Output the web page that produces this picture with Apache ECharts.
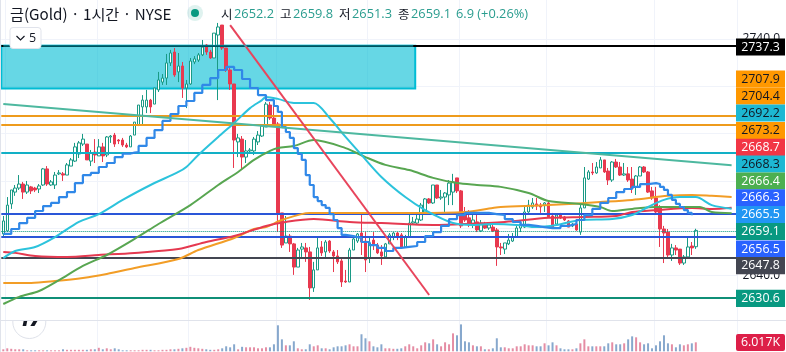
<!DOCTYPE html>
<html><head><meta charset="utf-8">
<style>html,body{margin:0;padding:0;background:#fff}#c{width:786px;height:352px}</style>
<script src="https://cdn.jsdelivr.net/npm/echarts@6/dist/echarts.min.js"></script>
</head><body><div id="c"></div>
<script>
const opens=[2657.6,2658.9,2670.3,2675.3,2677.0,2678.7,2675.3,2677.5,2677.0,2676.6,
2678.3,2685.1,2678.3,2678.3,2683.0,2683.0,2682.5,2686.3,2688.4,2691.4,
2695.6,2695.6,2688.4,2692.2,2690.6,2694.4,2691.0,2698.6,2699.4,2697.3,
2697.3,2695.2,2694.4,2699.4,2703.7,2711.3,2711.3,2714.2,2712.5,2718.5,
2721.8,2723.5,2729.9,2734.5,2726.1,2728.6,2719.3,2721.0,2730.3,2731.1,
2733.3,2737.5,2734.5,2732.0,2741.7,2745.9,2736.2,2726.9,2721.0,2696.5,
2697.7,2690.1,2692.7,2692.7,2696.5,2699.0,2702.8,2712.1,2706.6,2704.1,
2666.5,2653.8,2656.7,2653.4,2643.6,2651.2,2651.7,2650.0,2634.8,2642.4,
2652.1,2650.0,2654.6,2650.0,2648.3,2646.2,2637.7,2637.3,2650.8,2654.6,
2658.0,2654.6,2647.4,2655.0,2652.9,2650.0,2647.9,2653.4,2656.3,2658.0,
2657.2,2652.1,2656.3,2662.2,2662.2,2663.5,2666.9,2672.4,2670.7,2678.3,
2672.8,2673.2,2674.1,2675.3,2681.3,2675.8,2666.5,2664.4,2661.8,2662.7,
2658.9,2661.8,2660.1,2660.5,2659.3,2652.1,2651.2,2653.4,2654.6,2656.3,
2660.1,2660.5,2666.9,2669.0,2670.3,2669.8,2669.8,2670.7,2665.2,2661.8,
2665.6,2664.8,2663.1,2661.0,2661.8,2658.4,2668.6,2680.8,2683.8,2683.4,
2685.5,2688.9,2684.2,2680.4,2688.0,2685.9,2682.5,2683.0,2680.8,2677.5,
2682.1,2685.9,2683.8,2675.8,2672.8,2668.6,2659.7,2658.4,2648.7,2651.7,
2651.2,2645.3,2647.9,2652.5,2652.2];
const closes=[2663.1,2669.8,2676.2,2677.0,2678.7,2675.3,2678.3,2675.8,2676.2,2677.9,
2685.1,2678.7,2679.6,2682.5,2683.4,2682.5,2686.8,2688.9,2694.4,2696.1,
2697.7,2688.9,2691.8,2691.0,2694.4,2690.6,2698.6,2699.0,2695.6,2696.9,
2695.2,2694.4,2699.0,2704.9,2712.1,2714.2,2714.2,2711.3,2719.3,2722.7,
2723.5,2729.9,2734.1,2724.8,2728.6,2719.3,2721.0,2730.7,2731.6,2733.3,
2736.6,2734.5,2732.0,2742.5,2745.1,2736.2,2726.9,2721.0,2697.3,2698.2,
2690.1,2692.7,2693.1,2697.7,2699.4,2703.2,2712.5,2706.6,2704.1,2666.5,
2652.9,2656.7,2653.4,2643.6,2650.8,2652.1,2650.0,2634.8,2642.4,2651.7,
2649.6,2654.2,2650.4,2648.3,2645.8,2637.3,2637.3,2650.8,2655.5,2657.6,
2654.2,2646.6,2653.8,2652.9,2649.6,2648.3,2653.4,2657.2,2658.0,2656.3,
2652.1,2656.3,2662.2,2662.7,2663.9,2669.8,2672.4,2670.7,2678.3,2672.8,
2673.2,2674.9,2679.1,2679.6,2675.8,2661.0,2663.5,2661.4,2663.5,2659.3,
2662.2,2660.1,2661.4,2658.9,2652.1,2651.7,2653.8,2655.0,2656.3,2660.1,
2661.8,2666.9,2669.8,2670.7,2669.4,2669.0,2670.7,2664.8,2660.5,2665.6,
2664.4,2663.5,2660.5,2661.8,2659.3,2668.6,2681.3,2683.8,2683.4,2685.9,
2688.9,2683.8,2680.4,2688.0,2685.9,2682.5,2683.0,2680.4,2677.0,2682.1,
2685.9,2683.8,2675.3,2672.8,2666.9,2659.7,2658.0,2648.7,2651.7,2650.8,
2645.3,2647.9,2652.1,2651.7,2659.1];
const highs=[2665.2,2673.2,2676.2,2678.3,2682.5,2679.6,2680.0,2677.9,2677.5,2678.7,
2685.5,2686.3,2680.4,2683.8,2684.6,2683.8,2687.6,2689.7,2696.1,2696.9,
2699.9,2695.6,2693.1,2697.7,2697.7,2696.1,2699.0,2699.4,2700.3,2697.7,
2698.2,2696.1,2699.4,2704.9,2712.1,2716.3,2718.5,2714.7,2719.3,2726.1,
2725.2,2733.7,2735.4,2736.2,2734.1,2730.3,2722.7,2732.0,2732.8,2734.1,
2739.6,2737.9,2735.4,2742.5,2746.8,2745.9,2736.2,2728.6,2721.0,2699.9,
2699.0,2697.3,2693.9,2698.6,2701.1,2703.7,2713.4,2713.4,2714.2,2704.9,
2666.5,2665.2,2657.6,2653.8,2651.7,2653.8,2653.8,2652.1,2645.8,2655.9,
2654.6,2655.0,2655.0,2650.8,2650.8,2647.0,2642.4,2651.7,2656.7,2658.0,
2666.5,2658.4,2656.3,2658.4,2653.8,2652.9,2653.8,2658.0,2658.4,2658.4,
2658.0,2657.2,2666.5,2664.8,2666.5,2670.7,2672.8,2672.8,2678.3,2678.3,
2676.2,2675.3,2680.4,2683.0,2681.3,2676.2,2669.0,2667.7,2665.6,2666.9,
2663.5,2662.7,2662.2,2661.8,2660.1,2653.8,2653.8,2657.6,2658.0,2661.4,
2662.7,2669.8,2672.0,2672.8,2672.8,2670.7,2671.1,2671.5,2666.5,2666.0,
2666.5,2665.2,2663.5,2662.2,2663.9,2670.3,2685.9,2684.6,2687.6,2688.0,
2690.1,2688.9,2685.5,2688.4,2689.3,2688.0,2687.6,2685.9,2685.9,2682.5,
2686.3,2686.3,2684.2,2677.5,2677.5,2669.8,2661.0,2659.7,2653.4,2652.9,
2651.2,2648.7,2655.9,2654.2,2659.8];
const lows=[2656.7,2658.4,2668.2,2673.7,2676.2,2672.4,2674.5,2674.5,2675.3,2674.9,
2677.9,2677.9,2677.9,2676.6,2682.5,2680.0,2682.5,2686.3,2688.0,2689.7,
2694.8,2688.9,2686.3,2687.6,2690.6,2688.0,2690.1,2696.1,2694.4,2695.6,
2694.4,2693.9,2694.4,2699.4,2703.2,2703.7,2708.7,2708.7,2712.5,2717.6,
2720.6,2720.6,2728.6,2724.0,2721.8,2715.1,2710.8,2720.6,2729.4,2730.3,
2732.8,2733.3,2731.6,2732.0,2714.2,2735.4,2726.1,2718.5,2685.5,2690.1,
2684.6,2687.6,2691.8,2691.0,2695.2,2698.6,2702.8,2705.8,2703.7,2658.4,
2651.7,2653.8,2650.0,2640.3,2643.6,2647.9,2645.8,2629.7,2633.1,2642.4,
2648.3,2647.4,2649.6,2641.5,2644.9,2635.2,2636.9,2637.3,2650.8,2653.8,
2648.7,2641.5,2645.3,2650.8,2649.1,2644.5,2647.4,2653.4,2655.0,2655.0,
2652.1,2651.7,2656.3,2661.4,2661.8,2663.1,2666.5,2670.3,2670.3,2672.4,
2672.0,2666.9,2669.8,2669.8,2674.9,2660.1,2662.7,2660.5,2660.1,2658.4,
2658.4,2659.7,2659.3,2658.4,2644.1,2648.7,2649.1,2652.9,2654.2,2655.9,
2658.4,2660.1,2666.5,2668.2,2667.7,2666.5,2666.9,2664.4,2660.1,2661.4,
2663.9,2663.1,2660.5,2660.5,2658.9,2657.2,2668.6,2680.4,2682.5,2683.0,
2685.5,2683.4,2678.3,2679.6,2685.5,2682.1,2682.1,2679.6,2674.9,2674.1,
2682.1,2683.4,2674.9,2672.0,2665.6,2652.1,2645.3,2647.4,2646.2,2648.7,
2644.5,2644.5,2647.4,2648.7,2651.3];
const volumesK=[1.34,2,1.67,1.34,1.34,1.34,.67,.67,.67,.67,
.67,.67,.67,.67,.67,1.34,1,1,1,1,
1,1,1.34,1.34,2.34,1.34,2,1.34,2,1.34,
.67,.67,.67,.67,.67,1,1,1,.67,.67,
1,1,1.34,1.34,1.67,2,2.34,3,2.34,2,
1.67,1.34,1,1,1.34,2,3.34,2.67,4.68,
1.34,3,2.67,2.67,2.67,2,2,2.67,2.67,4.68,
17.4,8,4,4,6.68,2,1.34,1.34,4.68,3.34,4,2,2,1.34,2.67,3.34,3.34,4,4.68,3.34,3.34,
11.4,8.7,6.68,3.34,2.67,4.68,2,2,1.67,1.67,2,3.34,4.68,3.34,2,4,6,5.34,8,4.68,3.34,6,4.68,12,10.7,18,6.68,
6,4,3.34,3.34,1.34,1.34,2,8.7,2.67,2.67,2,2,3.34,3.34,4.68,4,4,3.34,3.34,5.34,4,6,4,2,1.34,1.34,1.34,2,5.34,8,
3.34,3.34,3.34,3.34,3.34,5.34,6,4.68,4.68,5.34,8,10,9.35,6,4.68,5.34,2,4,6.68,10.7,5.34,4.68,2.67,4.68,4,4.68,5.34,6.017];

const maBlue=[[0,2657.6],[2,2659.7],[4,2662.2],[6,2664.4],[8,2667.3],[10,2669.4],[12,2670.7],[14,2673.2],[16,2675.3],[18,2679.1],[20,2682.5],[22,2683.4],[24,2685.9],[26,2687.6],[28,2690.1],[30,2691.6],[32,2692],[33,2692.2],[34,2694.8],[36,2698.2],[38,2701.5],[40,2705.4],[42,2708.3],[44,2711.7],[46,2713.8],[48,2717.2],[50,2720.6],[52,2723.5],[54,2726.9],[56,2728.2],[58,2726.9],[60,2723.1],[62,2719.3],[64,2716.3],[66,2714.2],[68,2711.7],[69,2709.2],[70,2702.8],[71,2700.7],[72,2698.2],[73,2693.9],[74,2691.4],[75,2688.9],[76,2682.5],[77,2678.3],[78,2673.2],[79,2671.5],[80,2669.8],[81,2668.6],[82,2666],[83,2663.5],[84,2660.1],[85,2657.2],[86,2656.7],[88,2655.9],[90,2654.2],[92,2652.9],[94,2651.7],[96,2650.4],[98,2651.7],[100,2652.1],[102,2652.5],[104,2654.2],[106,2656.7],[108,2658.4],[110,2661],[112,2663.9],[114,2665.6],[116,2666.5],[120,2666.5],[122,2666],[124,2665.6],[126,2663.9],[128,2662.7],[130,2661.4],[132,2661],[134,2660.5],[136,2660.1],[138,2660.1],[140,2661],[142,2661.8],[144,2663.5],[146,2665.6],[148,2668.2],[150,2670.7],[152,2672.8],[154,2675.3],[156,2676.6],[158,2677.5],[160,2678.7],[162,2679.1],[164,2678.7],[165,2677.5],[166,2676.2],[167,2674.1],[168,2672],[169,2670.3],[170,2669],[171,2667.7],[172,2666.5],[173,2665.5]];
const maCyan=[[0,2647.4],[3,2650.4],[8,2652.1],[13,2656.3],[19,2662.7],[24,2666],[30,2672],[37,2678.3],[44,2683.8],[46,2685.9],[49,2691],[54,2698.6],[58,2704.5],[62,2710.8],[65,2714.2],[66,2715.5],[69,2714.7],[73,2713],[78,2713],[82,2706.6],[86,2698.6],[90,2691],[95,2681.7],[101,2673.2],[106,2667.7],[113,2662.2],[118,2661.4],[123,2661.8],[129,2661.4],[134,2660.5],[139,2661.4],[145,2663.5],[153,2663.9],[158,2665.6],[162,2669],[166,2672],[170,2673.2],[174,2673.2],[178,2669.8],[183,2668.3]];
const maGreen=[[0,2628],[4,2631],[9,2633.5],[14,2638.1],[20,2644.1],[26,2648.7],[33,2655.5],[39,2661.8],[47,2669.8],[54,2678.3],[59,2683.8],[63,2688.9],[67,2692.7],[69,2693.9],[73,2694.8],[78,2697.3],[86,2693.9],[91,2690.1],[96,2686.8],[102,2684.6],[108,2681.3],[114,2679.1],[119,2678.3],[125,2677.5],[132,2674.9],[137,2671.5],[145,2670.3],[150,2669],[153,2667.3],[158,2668.2],[164,2669],[170,2669],[175,2669],[178,2666.9],[183,2666.4]];
const maOrange=[[0,2636.9],[7,2636.9],[13,2637.7],[20,2639],[26,2640.7],[33,2643.2],[44,2647],[49,2650.8],[58,2655.9],[63,2659.7],[66,2660.5],[70,2663.5],[77,2666.5],[91,2666.5],[99,2666.5],[103,2666.5],[116,2666.9],[123,2668.6],[125,2669],[137,2669.8],[150,2671.1],[158,2672],[167,2673.7],[173,2674.1],[178,2673.7],[183,2673.2]];
const maRed=[[0,2650],[3,2649.6],[8,2648.3],[16,2647.9],[24,2648.7],[33,2649.6],[44,2651.2],[51,2654.2],[58,2656.7],[66,2661],[71,2662.7],[78,2663.9],[87,2662.7],[95,2662.2],[108,2661.4],[116,2661.8],[126,2662.7],[137,2664.4],[146,2664.8],[154,2665.2],[158,2666.9],[164,2667.7],[173,2668.6],[178,2668.2],[183,2668.7]];
const trendRed=[[57,2745.9],[107,2631.8]];
const trendTeal=[[0,2712.5],[183,2686.6]];
const levelValues=[2737.2,2707.6,2703.9,2691.8,2666.0,2656.3,2647.4,2630.6,2658.8];
const levelColors=['#000000','#ee9b1c','#ee9b1c','#12b0c6','#2a56d8','#2a56d8','#434651','#0f8f77','#089981'];
const bandColumns=[0,103];
const bandRange=[2737.2,2719.1];
const tagTexts=['2737.3','2707.9','2704.4','2692.2','2673.2','2668.7','2668.3','2666.4','2666.3','2665.5','2659.1','2656.5','2647.8','2630.6','6.017K'];
const tagFills=['#000000','#ff9800','#ff9800','#1db8d3','#ff9800','#f23645','#1db8d3','#4caf50','#2962ff','#2196f3','#089981','#2962ff','#434651','#089981','#dd1f48'];
const tagInk=['#fff','#131722','#131722','#131722','#131722','#fff','#131722','#fff','#fff','#fff','#fff','#fff','#fff','#fff','#fff'];
const tagCenters=[47,79,96,113,130.5,147.3,164,181,197.8,214.5,231.5,249,265.7,298.3,342.5];
const yTickLabels=[2640,2740];
const titleText='금(Gold) · 1시간 · NYSE';
const legendItems=[['시','2652.2',221],['고','2659.8',280],['저','2651.3',339],['종','2659.1',398]];
const changeText='6.9 (+0.26%)';
const categoryCount=185;
const cats=Array.from({length:categoryCount},(_,i)=>String(i));
const vLineAt=new Set([1,24,47,69,92,115,137,164]);
const font='"Noto Sans CJK KR","Open Sans",sans-serif';
const upC='#1a9a85',dnC='#e8394f';

function lineS(name,data,color,w,extra){
  return Object.assign({name,type:'line',data,showSymbol:false,symbol:'none',silent:true,
    lineStyle:{color,width:w},z:6,xAxisIndex:0,yAxisIndex:0},extra||{});
}
const candle=opens.map((o,i)=>[o,closes[i],lows[i],highs[i]]);
const vols=volumesK.map((v,i)=>({value:v,itemStyle:{color:closes[i]>=opens[i]?'#e58da4':'#87a8cd'}}));
const series=[
 {type:'custom',name:'zone',silent:true,z:1,clip:true,xAxisIndex:0,yAxisIndex:0,
  data:[[bandColumns[0],bandColumns[1],bandRange[0],bandRange[1]]],
  encode:{x:[0,1],y:[2,3]},
  renderItem:(params,api)=>{
    const half=api.size([1,0])[0]/2;
    const a=api.coord([api.value(0),api.value(2)]),b=api.coord([api.value(1),api.value(3)]);
    return {type:'rect',shape:{x:a[0]-half,y:a[1],width:b[0]-a[0]+2*half,height:b[1]-a[1]},
      style:{fill:'rgba(0,188,212,0.6)',stroke:'#00bcd4',lineWidth:2}};
  }},
 {type:'line',name:'levels',data:[],silent:true,z:7,
  markLine:{silent:true,symbol:'none',animation:false,label:{show:false},
   data:levelValues.map((v,i)=>({yAxis:v,lineStyle:{color:levelColors[i],width:i===8?1:2,type:i===8?'dotted':'solid'}}))}},
 lineS('zoneEdge',[[bandColumns[0],bandRange[0]],[bandColumns[1],bandRange[0]]],'rgba(0,188,212,0.6)',2,{z:8}),
 {type:'candlestick',name:'gold',data:candle,barWidth:3,z:3,silent:true,
  itemStyle:{color:'#ffffff',color0:dnC,borderColor:upC,borderColor0:dnC,borderWidth:1}},
 lineS('orange',maOrange,'#f29d26',2,{smooth:0.3}),
 lineS('red',maRed,'#e53950',2,{smooth:0.3}),
 lineS('green',maGreen,'#58a651',2,{smooth:0.3}),
 lineS('cyan',maCyan,'#2cc3dc',2,{smooth:0.3}),
 lineS('blue',maBlue,'#3088e8',2.2,{step:'end'}),
 lineS('trendTeal',trendTeal,'#4db89f',2),
 lineS('trendRed',trendRed,'#e8455c',2),
 {type:'bar',name:'volume',data:vols,xAxisIndex:1,yAxisIndex:1,barWidth:2,silent:true}
];
function tag(i){
  const cy=tagCenters[i],last=i===tagTexts.length-1;
  return [{type:'rect',z:100,shape:{x:736,y:cy-8.6,width:49,height:17.2,r:last?2:0},style:{fill:tagFills[i]}},
    {type:'text',z:101,style:{x:760.5,y:cy,text:tagTexts[i],fill:tagInk[i],font:'12.4px "Open Sans",sans-serif',textAlign:'center',textVerticalAlign:'middle'}}];
}
const gfx=[
 {type:'line',z:0,shape:{x1:0.5,y1:0,x2:0.5,y2:352},style:{stroke:'#e0e3eb',lineWidth:1}},
 {type:'circle',z:50,shape:{cx:29.3,cy:322,r:16.5},style:{fill:'#fff',stroke:'#dfe2ea',lineWidth:1}},
 {type:'text',z:51,style:{x:30,y:320.5,text:'17',fill:'#131722',font:'italic 900 19px "Open Sans",sans-serif',textAlign:'center',textVerticalAlign:'middle'}},
 {type:'rect',z:52,shape:{x:10,y:303,width:40,height:17.5},style:{fill:'#fff'}},
 {type:'line',z:53,shape:{x1:0,y1:320.5,x2:786,y2:320.5},style:{stroke:'#e0e3eb',lineWidth:1}},
 {type:'text',z:60,style:{x:10,y:14,text:titleText,fill:'#131722',font:'15.2px '+font,textVerticalAlign:'middle'}},
 {type:'circle',z:60,shape:{cx:195,cy:13,r:8},style:{fill:'rgba(8,153,129,0.13)'}},
 {type:'circle',z:61,shape:{cx:195,cy:13,r:4},style:{fill:'#089981'}},
 {type:'rect',z:60,shape:{x:10,y:27.5,width:31,height:21,r:3},style:{fill:'#fff',stroke:'#e0e3eb',lineWidth:1}},
 {type:'polyline',z:61,shape:{points:[[16.5,36],[20.5,40],[24.5,36]]},style:{stroke:'#131722',lineWidth:1.2,fill:null}},
 {type:'text',z:61,style:{x:29,y:38,text:'5',fill:'#131722',font:'12.5px "Open Sans",sans-serif',textVerticalAlign:'middle'}},
 {type:'text',z:60,style:{x:456,y:14,text:changeText,fill:'#2a9d8f',font:'12.8px "Open Sans",sans-serif',textVerticalAlign:'middle'}}
];
legendItems.forEach(([k,v,x])=>{
  gfx.push({type:'text',z:60,style:{x,y:14,text:k,fill:'#131722',font:'12.5px '+font,textVerticalAlign:'middle'}});
  gfx.push({type:'text',z:60,style:{x:x+13,y:14,text:v,fill:'#2a9d8f',font:'12.8px "Open Sans",sans-serif',textVerticalAlign:'middle'}});
});
tagTexts.forEach((_,i)=>gfx.push(...tag(i)));

const chart=echarts.init(document.getElementById('c'),null,{renderer:'canvas'});
chart.setOption({
 animation:false,backgroundColor:'#fff',
 grid:[{left:1.3,top:0,width:736.3,height:322.9},{left:1.3,top:320.5,width:736.3,height:30.8}],
 xAxis:[
  {type:'category',data:cats,gridIndex:0,boundaryGap:true,axisLine:{show:false},axisTick:{show:false},axisLabel:{show:false},
   splitLine:{show:true,interval:(i)=>vLineAt.has(i),lineStyle:{color:'#f0f3fa'}}},
  {type:'category',data:cats,gridIndex:1,boundaryGap:true,axisLine:{show:false},axisTick:{show:false},axisLabel:{show:false},
   splitLine:{show:true,interval:(i)=>vLineAt.has(i),lineStyle:{color:'#f0f3fa'}}}
 ],
 yAxis:[
  {type:'value',gridIndex:0,position:'right',min:2620,max:2756.5,interval:20,scale:true,
   axisLine:{show:false},axisTick:{show:false},
   axisLabel:{margin:5,fontSize:12,color:'#131722',fontFamily:'"Open Sans",sans-serif',hideOverlap:false,
     showMinLabel:false,showMaxLabel:false,
     formatter:(v)=>yTickLabels.includes(v)?v.toFixed(1):''},
   splitLine:{show:true,showMinLine:false,showMaxLine:false,lineStyle:{color:'#f0f3fa'}}},
  {type:'value',gridIndex:1,min:0,max:20.6,show:false,splitLine:{show:false}}
 ],
 graphic:{elements:gfx},
 series
});
</script></body></html>
